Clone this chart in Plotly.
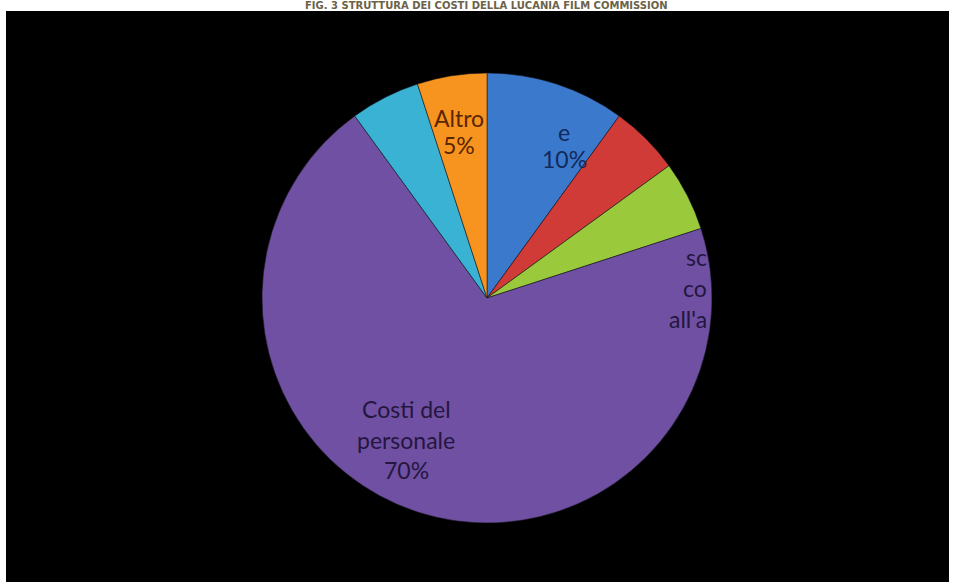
import plotly.graph_objects as go

W, H = 957, 582

# Cost shares (%), clockwise from 12 o'clock
shares = [10, 5, 5, 70, 5, 5]
slice_colors = ["#3b79cc", "#d13b37", "#9bc93c", "#7050a2", "#39b2d4", "#f7931f"]

# Label lines as they appear inside the slices
label_lines = [
    ["e", f"{shares[0]}%"],
    [],
    ["sc", "co", "all'a"],
    ["Costi del", "personale", f"{shares[3]}%"],
    [],
    ["Altro", f"{shares[5]}%"],
]
label_colors = ["#12295a", None, "#24163f", "#24163f", None, "#5a2600"]
# pixel anchor of each label block: (x, first-line y, line step, anchor)
label_pos = [
    (564, 132, 27, "center"),
    None,
    (709, 257, 31, "right"),
    (406, 409, 30.5, "center"),
    None,
    (459, 118, 27, "center"),
]

title_text = "FIG. 3 STRUTTURA DEI COSTI DELLA LUCANIA FILM COMMISSION"


def px(x):
    return x / W


def py(y):
    return 1 - y / H


cx, cy, r = 487, 298, 225

fig = go.Figure(
    go.Pie(
        values=shares,
        sort=False,
        direction="clockwise",
        rotation=0,
        marker=dict(colors=slice_colors, line=dict(color="rgba(20,20,30,0.55)", width=1)),
        textinfo="none",
        hoverinfo="skip",
        showlegend=False,
        domain=dict(x=[px(cx - r), px(cx + r)], y=[py(cy + r), py(cy - r)]),
    )
)

annotations = []
for lines, col, pos in zip(label_lines, label_colors, label_pos):
    if not lines:
        continue
    x0, y0, step, anchor = pos
    for i, line in enumerate(lines):
        annotations.append(
            dict(
                x=px(x0), y=py(y0 + i * step), xref="paper", yref="paper",
                text=line, showarrow=False, xanchor=anchor, yanchor="middle",
                font=dict(family="Lato", size=23, color=col),
            )
        )

annotations.append(
    dict(
        x=px(487), y=py(5.5), xref="paper", yref="paper", text=f"<b>{title_text}</b>",
        showarrow=False, xanchor="center", yanchor="middle",
        font=dict(family="DejaVu Sans", size=10, color="#6b6248"),
    )
)

fig.update_layout(
    width=W, height=H,
    margin=dict(l=0, r=0, t=0, b=0),
    paper_bgcolor="white",
    plot_bgcolor="white",
    shapes=[
        dict(type="rect", xref="paper", yref="paper", x0=px(6), x1=px(949), y0=0, y1=py(11),
             fillcolor="black", line=dict(width=0), layer="below"),
    ],
    annotations=annotations,
)

fig.write_html("out.html")
